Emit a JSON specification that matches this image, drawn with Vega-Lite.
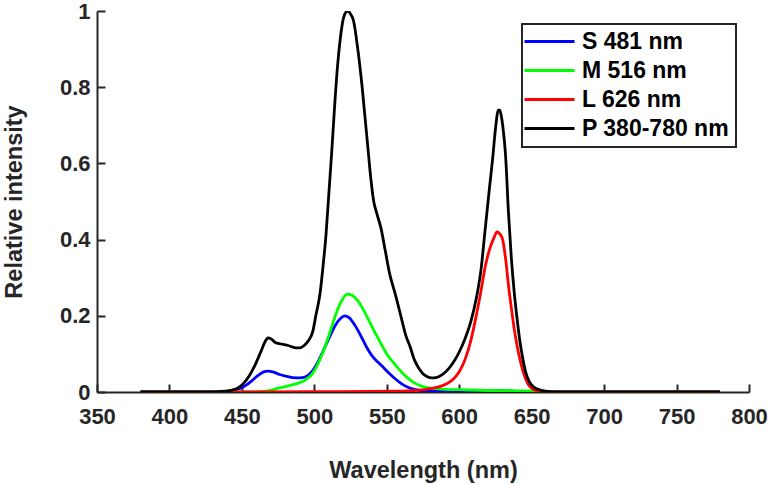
{
  "$schema": "https://vega.github.io/schema/vega-lite/v6.json",
  "description": "Relative spectral intensity of S, M, L primaries and P",
  "width": 652,
  "height": 381,
  "autosize": {"type": "none"},
  "padding": {"left": 97, "top": 11, "right": 19, "bottom": 92},
  "background": "white",
  "data": {
    "values": [
      {"wl": 380, "v": 0, "s": "S 481 nm"},
      {"wl": 440, "v": 0, "s": "S 481 nm"},
      {"wl": 445, "v": 0.004, "s": "S 481 nm"},
      {"wl": 449, "v": 0.01, "s": "S 481 nm"},
      {"wl": 453, "v": 0.018, "s": "S 481 nm"},
      {"wl": 457, "v": 0.03, "s": "S 481 nm"},
      {"wl": 461, "v": 0.043, "s": "S 481 nm"},
      {"wl": 465, "v": 0.053, "s": "S 481 nm"},
      {"wl": 468, "v": 0.055, "s": "S 481 nm"},
      {"wl": 472, "v": 0.052, "s": "S 481 nm"},
      {"wl": 476, "v": 0.046, "s": "S 481 nm"},
      {"wl": 480, "v": 0.042, "s": "S 481 nm"},
      {"wl": 485, "v": 0.038, "s": "S 481 nm"},
      {"wl": 490, "v": 0.037, "s": "S 481 nm"},
      {"wl": 494, "v": 0.04, "s": "S 481 nm"},
      {"wl": 498, "v": 0.052, "s": "S 481 nm"},
      {"wl": 502, "v": 0.075, "s": "S 481 nm"},
      {"wl": 506, "v": 0.107, "s": "S 481 nm"},
      {"wl": 510, "v": 0.14, "s": "S 481 nm"},
      {"wl": 514, "v": 0.172, "s": "S 481 nm"},
      {"wl": 518, "v": 0.193, "s": "S 481 nm"},
      {"wl": 521, "v": 0.2, "s": "S 481 nm"},
      {"wl": 524, "v": 0.195, "s": "S 481 nm"},
      {"wl": 528, "v": 0.175, "s": "S 481 nm"},
      {"wl": 532, "v": 0.148, "s": "S 481 nm"},
      {"wl": 536, "v": 0.118, "s": "S 481 nm"},
      {"wl": 540, "v": 0.094, "s": "S 481 nm"},
      {"wl": 544, "v": 0.078, "s": "S 481 nm"},
      {"wl": 548, "v": 0.063, "s": "S 481 nm"},
      {"wl": 552, "v": 0.048, "s": "S 481 nm"},
      {"wl": 556, "v": 0.034, "s": "S 481 nm"},
      {"wl": 560, "v": 0.022, "s": "S 481 nm"},
      {"wl": 565, "v": 0.012, "s": "S 481 nm"},
      {"wl": 570, "v": 0.006, "s": "S 481 nm"},
      {"wl": 580, "v": 0.002, "s": "S 481 nm"},
      {"wl": 600, "v": 0.001, "s": "S 481 nm"},
      {"wl": 615, "v": 0.002, "s": "S 481 nm"},
      {"wl": 625, "v": 0.004, "s": "S 481 nm"},
      {"wl": 632, "v": 0.003, "s": "S 481 nm"},
      {"wl": 645, "v": 0.001, "s": "S 481 nm"},
      {"wl": 660, "v": 0, "s": "S 481 nm"},
      {"wl": 780, "v": 0, "s": "S 481 nm"},

      {"wl": 380, "v": 0, "s": "M 516 nm"},
      {"wl": 460, "v": 0, "s": "M 516 nm"},
      {"wl": 468, "v": 0.003, "s": "M 516 nm"},
      {"wl": 475, "v": 0.01, "s": "M 516 nm"},
      {"wl": 482, "v": 0.016, "s": "M 516 nm"},
      {"wl": 488, "v": 0.022, "s": "M 516 nm"},
      {"wl": 494, "v": 0.032, "s": "M 516 nm"},
      {"wl": 498, "v": 0.045, "s": "M 516 nm"},
      {"wl": 502, "v": 0.07, "s": "M 516 nm"},
      {"wl": 506, "v": 0.105, "s": "M 516 nm"},
      {"wl": 510, "v": 0.148, "s": "M 516 nm"},
      {"wl": 514, "v": 0.195, "s": "M 516 nm"},
      {"wl": 518, "v": 0.233, "s": "M 516 nm"},
      {"wl": 521, "v": 0.252, "s": "M 516 nm"},
      {"wl": 523, "v": 0.257, "s": "M 516 nm"},
      {"wl": 526, "v": 0.254, "s": "M 516 nm"},
      {"wl": 530, "v": 0.24, "s": "M 516 nm"},
      {"wl": 534, "v": 0.215, "s": "M 516 nm"},
      {"wl": 538, "v": 0.185, "s": "M 516 nm"},
      {"wl": 542, "v": 0.155, "s": "M 516 nm"},
      {"wl": 546, "v": 0.127, "s": "M 516 nm"},
      {"wl": 550, "v": 0.1, "s": "M 516 nm"},
      {"wl": 554, "v": 0.08, "s": "M 516 nm"},
      {"wl": 558, "v": 0.062, "s": "M 516 nm"},
      {"wl": 562, "v": 0.045, "s": "M 516 nm"},
      {"wl": 566, "v": 0.032, "s": "M 516 nm"},
      {"wl": 570, "v": 0.022, "s": "M 516 nm"},
      {"wl": 575, "v": 0.014, "s": "M 516 nm"},
      {"wl": 580, "v": 0.01, "s": "M 516 nm"},
      {"wl": 590, "v": 0.007, "s": "M 516 nm"},
      {"wl": 600, "v": 0.006, "s": "M 516 nm"},
      {"wl": 620, "v": 0.004, "s": "M 516 nm"},
      {"wl": 640, "v": 0.003, "s": "M 516 nm"},
      {"wl": 655, "v": 0.002, "s": "M 516 nm"},
      {"wl": 670, "v": 0, "s": "M 516 nm"},
      {"wl": 780, "v": 0, "s": "M 516 nm"},

      {"wl": 380, "v": 0, "s": "L 626 nm"},
      {"wl": 500, "v": 0.001, "s": "L 626 nm"},
      {"wl": 560, "v": 0.002, "s": "L 626 nm"},
      {"wl": 570, "v": 0.004, "s": "L 626 nm"},
      {"wl": 576, "v": 0.006, "s": "L 626 nm"},
      {"wl": 582, "v": 0.01, "s": "L 626 nm"},
      {"wl": 588, "v": 0.016, "s": "L 626 nm"},
      {"wl": 592, "v": 0.023, "s": "L 626 nm"},
      {"wl": 596, "v": 0.034, "s": "L 626 nm"},
      {"wl": 600, "v": 0.053, "s": "L 626 nm"},
      {"wl": 604, "v": 0.085, "s": "L 626 nm"},
      {"wl": 608, "v": 0.135, "s": "L 626 nm"},
      {"wl": 612, "v": 0.205, "s": "L 626 nm"},
      {"wl": 615, "v": 0.265, "s": "L 626 nm"},
      {"wl": 618, "v": 0.33, "s": "L 626 nm"},
      {"wl": 621, "v": 0.375, "s": "L 626 nm"},
      {"wl": 624, "v": 0.405, "s": "L 626 nm"},
      {"wl": 626, "v": 0.42, "s": "L 626 nm"},
      {"wl": 628, "v": 0.415, "s": "L 626 nm"},
      {"wl": 630, "v": 0.4, "s": "L 626 nm"},
      {"wl": 632, "v": 0.35, "s": "L 626 nm"},
      {"wl": 634, "v": 0.28, "s": "L 626 nm"},
      {"wl": 636, "v": 0.22, "s": "L 626 nm"},
      {"wl": 638, "v": 0.165, "s": "L 626 nm"},
      {"wl": 640, "v": 0.12, "s": "L 626 nm"},
      {"wl": 642, "v": 0.084, "s": "L 626 nm"},
      {"wl": 644, "v": 0.055, "s": "L 626 nm"},
      {"wl": 646, "v": 0.033, "s": "L 626 nm"},
      {"wl": 648, "v": 0.018, "s": "L 626 nm"},
      {"wl": 651, "v": 0.007, "s": "L 626 nm"},
      {"wl": 655, "v": 0.002, "s": "L 626 nm"},
      {"wl": 660, "v": 0, "s": "L 626 nm"},
      {"wl": 780, "v": 0, "s": "L 626 nm"},

      {"wl": 380, "v": 0, "s": "P 380-780 nm"},
      {"wl": 430, "v": 0, "s": "P 380-780 nm"},
      {"wl": 438, "v": 0.002, "s": "P 380-780 nm"},
      {"wl": 443, "v": 0.005, "s": "P 380-780 nm"},
      {"wl": 447, "v": 0.01, "s": "P 380-780 nm"},
      {"wl": 451, "v": 0.022, "s": "P 380-780 nm"},
      {"wl": 455, "v": 0.042, "s": "P 380-780 nm"},
      {"wl": 459, "v": 0.07, "s": "P 380-780 nm"},
      {"wl": 463, "v": 0.105, "s": "P 380-780 nm"},
      {"wl": 466, "v": 0.132, "s": "P 380-780 nm"},
      {"wl": 468, "v": 0.142, "s": "P 380-780 nm"},
      {"wl": 470, "v": 0.14, "s": "P 380-780 nm"},
      {"wl": 473, "v": 0.13, "s": "P 380-780 nm"},
      {"wl": 477, "v": 0.126, "s": "P 380-780 nm"},
      {"wl": 482, "v": 0.122, "s": "P 380-780 nm"},
      {"wl": 487, "v": 0.116, "s": "P 380-780 nm"},
      {"wl": 490, "v": 0.116, "s": "P 380-780 nm"},
      {"wl": 493, "v": 0.122, "s": "P 380-780 nm"},
      {"wl": 496, "v": 0.135, "s": "P 380-780 nm"},
      {"wl": 499, "v": 0.16, "s": "P 380-780 nm"},
      {"wl": 501, "v": 0.2, "s": "P 380-780 nm"},
      {"wl": 504, "v": 0.26, "s": "P 380-780 nm"},
      {"wl": 506, "v": 0.33, "s": "P 380-780 nm"},
      {"wl": 508, "v": 0.41, "s": "P 380-780 nm"},
      {"wl": 510, "v": 0.52, "s": "P 380-780 nm"},
      {"wl": 512, "v": 0.63, "s": "P 380-780 nm"},
      {"wl": 514, "v": 0.75, "s": "P 380-780 nm"},
      {"wl": 516, "v": 0.855, "s": "P 380-780 nm"},
      {"wl": 518, "v": 0.93, "s": "P 380-780 nm"},
      {"wl": 520, "v": 0.98, "s": "P 380-780 nm"},
      {"wl": 522, "v": 0.998, "s": "P 380-780 nm"},
      {"wl": 523, "v": 1.0, "s": "P 380-780 nm"},
      {"wl": 525, "v": 0.992, "s": "P 380-780 nm"},
      {"wl": 527, "v": 0.975, "s": "P 380-780 nm"},
      {"wl": 530, "v": 0.9, "s": "P 380-780 nm"},
      {"wl": 533, "v": 0.8, "s": "P 380-780 nm"},
      {"wl": 535, "v": 0.72, "s": "P 380-780 nm"},
      {"wl": 537, "v": 0.64, "s": "P 380-780 nm"},
      {"wl": 539, "v": 0.56, "s": "P 380-780 nm"},
      {"wl": 541, "v": 0.5, "s": "P 380-780 nm"},
      {"wl": 543, "v": 0.47, "s": "P 380-780 nm"},
      {"wl": 546, "v": 0.43, "s": "P 380-780 nm"},
      {"wl": 549, "v": 0.37, "s": "P 380-780 nm"},
      {"wl": 552, "v": 0.31, "s": "P 380-780 nm"},
      {"wl": 556, "v": 0.255, "s": "P 380-780 nm"},
      {"wl": 560, "v": 0.195, "s": "P 380-780 nm"},
      {"wl": 563, "v": 0.15, "s": "P 380-780 nm"},
      {"wl": 566, "v": 0.12, "s": "P 380-780 nm"},
      {"wl": 569, "v": 0.085, "s": "P 380-780 nm"},
      {"wl": 572, "v": 0.063, "s": "P 380-780 nm"},
      {"wl": 575, "v": 0.048, "s": "P 380-780 nm"},
      {"wl": 578, "v": 0.04, "s": "P 380-780 nm"},
      {"wl": 581, "v": 0.037, "s": "P 380-780 nm"},
      {"wl": 584, "v": 0.038, "s": "P 380-780 nm"},
      {"wl": 588, "v": 0.045, "s": "P 380-780 nm"},
      {"wl": 592, "v": 0.058, "s": "P 380-780 nm"},
      {"wl": 596, "v": 0.078, "s": "P 380-780 nm"},
      {"wl": 600, "v": 0.105, "s": "P 380-780 nm"},
      {"wl": 604, "v": 0.14, "s": "P 380-780 nm"},
      {"wl": 608, "v": 0.185, "s": "P 380-780 nm"},
      {"wl": 612, "v": 0.25, "s": "P 380-780 nm"},
      {"wl": 615, "v": 0.32, "s": "P 380-780 nm"},
      {"wl": 618, "v": 0.43, "s": "P 380-780 nm"},
      {"wl": 621, "v": 0.54, "s": "P 380-780 nm"},
      {"wl": 623, "v": 0.61, "s": "P 380-780 nm"},
      {"wl": 625, "v": 0.69, "s": "P 380-780 nm"},
      {"wl": 627, "v": 0.74, "s": "P 380-780 nm"},
      {"wl": 628, "v": 0.74, "s": "P 380-780 nm"},
      {"wl": 629, "v": 0.725, "s": "P 380-780 nm"},
      {"wl": 630, "v": 0.7, "s": "P 380-780 nm"},
      {"wl": 632, "v": 0.62, "s": "P 380-780 nm"},
      {"wl": 634, "v": 0.47, "s": "P 380-780 nm"},
      {"wl": 636, "v": 0.35, "s": "P 380-780 nm"},
      {"wl": 638, "v": 0.26, "s": "P 380-780 nm"},
      {"wl": 640, "v": 0.19, "s": "P 380-780 nm"},
      {"wl": 642, "v": 0.13, "s": "P 380-780 nm"},
      {"wl": 644, "v": 0.085, "s": "P 380-780 nm"},
      {"wl": 646, "v": 0.05, "s": "P 380-780 nm"},
      {"wl": 648, "v": 0.03, "s": "P 380-780 nm"},
      {"wl": 650, "v": 0.018, "s": "P 380-780 nm"},
      {"wl": 653, "v": 0.009, "s": "P 380-780 nm"},
      {"wl": 657, "v": 0.004, "s": "P 380-780 nm"},
      {"wl": 662, "v": 0.001, "s": "P 380-780 nm"},
      {"wl": 670, "v": 0, "s": "P 380-780 nm"},
      {"wl": 780, "v": 0, "s": "P 380-780 nm"}
    ]
  },
  "mark": {"type": "line", "strokeWidth": 2.8, "interpolate": "monotone", "clip": true},
  "encoding": {
    "x": {
      "field": "wl",
      "type": "quantitative",
      "scale": {"domain": [350, 800], "nice": false, "zero": false},
      "axis": {
        "title": "Wavelength (nm)",
        "values": [350, 400, 450, 500, 550, 600, 650, 700, 750, 800],
        "format": "d",
        "grid": false,
        "tickSize": -8,
        "labelPadding": 22,
        "titlePadding": 31
      }
    },
    "y": {
      "field": "v",
      "type": "quantitative",
      "scale": {"domain": [0, 1], "nice": false},
      "axis": {
        "title": "Relative intensity",
        "values": [0, 0.2, 0.4, 0.6, 0.8, 1],
        "format": "~g",
        "grid": false,
        "tickSize": -8,
        "labelPadding": 15,
        "titlePadding": 33
      }
    },
    "color": {
      "field": "s",
      "type": "nominal",
      "sort": null,
      "scale": {
        "domain": ["S 481 nm", "M 516 nm", "L 626 nm", "P 380-780 nm"],
        "range": ["#0000ff", "#00ff00", "#ff0000", "#000000"]
      },
      "legend": {
        "title": null,
        "orient": "top-right",
        "offset": 13,
        "symbolType": "M-5,0H5",
        "symbolSize": 100,
        "symbolStrokeWidth": 3,
        "symbolOffset": 10,
        "labelOffset": 21,
        "labelFont": "Liberation Sans",
        "labelFontSize": 23,
        "labelFontWeight": "bold",
        "labelColor": "#000000",
        "fillColor": "white",
        "strokeColor": "#262626",
        "padding": 6,
        "rowPadding": 5
      }
    }
  },
  "config": {
    "view": {"stroke": null},
    "axis": {
      "domainColor": "#262626",
      "domainWidth": 2,
      "tickColor": "#262626",
      "tickWidth": 2,
      "labelFont": "Liberation Sans",
      "labelFontSize": 22,
      "labelFontWeight": "bold",
      "labelColor": "#262626",
      "titleFont": "Liberation Sans",
      "titleFontSize": 23.5,
      "titleFontWeight": "bold",
      "titleColor": "#262626",
      "labelFlush": false,
      "labelOverlap": false
    },
    "legend": {"strokeWidth": 2}
  }
}
